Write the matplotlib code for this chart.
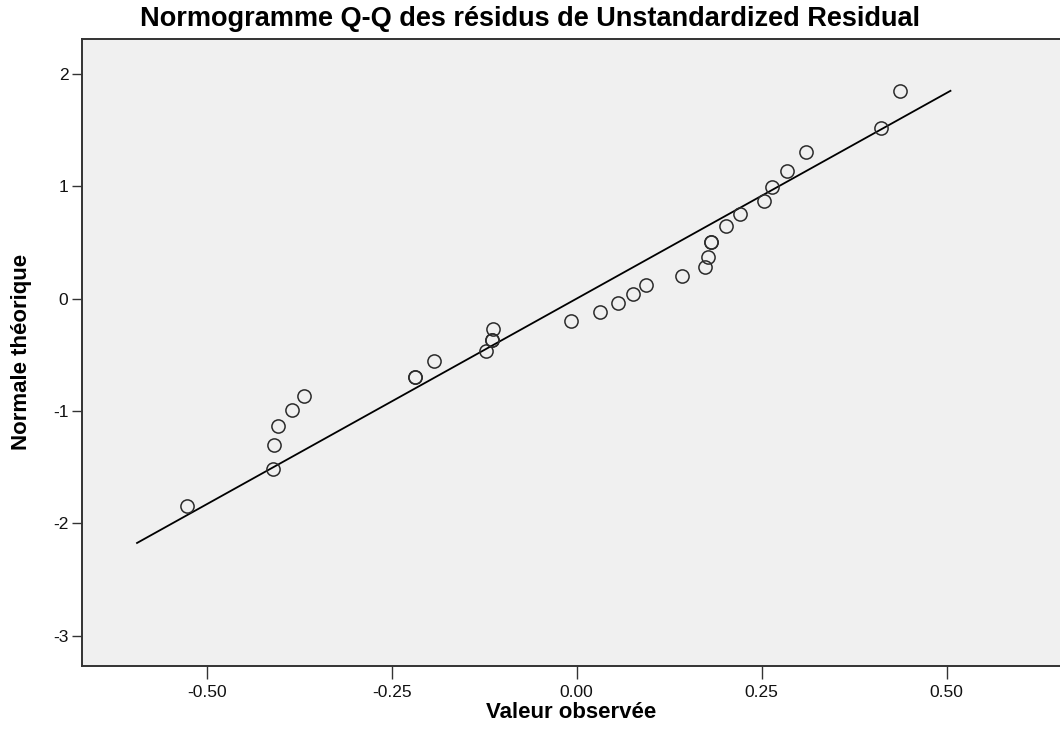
#!/usr/bin/env python3
"""SPSS-style normal Q-Q plot of the unstandardized residuals."""
import matplotlib as mpl
mpl.use("Agg")
import matplotlib.pyplot as plt

# Doubled circles in the picture are two points on top of each other.
OBSERVED = [
    -0.526, -0.410, -0.409, -0.404, -0.385, -0.368, -0.218, -0.218,
    -0.193, -0.123, -0.114, -0.114, -0.1135, -0.008, 0.032, 0.056,
    0.076, 0.093, 0.142, 0.173, 0.178, 0.181, 0.181, 0.202,
    0.221, 0.253, 0.264, 0.284, 0.310, 0.411, 0.437,
]
THEORETICAL = [
    -1.846, -1.515, -1.301, -1.129, -0.990, -0.862, -0.697, -0.697,
    -0.557, -0.466, -0.371, -0.371, -0.273, -0.199, -0.119, -0.036,
    0.044, 0.124, 0.207, 0.287, 0.376, 0.509, 0.509, 0.652,
    0.756, 0.868, 0.992, 1.138, 1.303, 1.520, 1.852,
]
# Reference line endpoints
LINE_X = [-0.594, 0.505]
LINE_Y = [-2.175, 1.852]

X_TICKS = [-0.50, -0.25, 0.00, 0.25, 0.50]
Y_TICKS = [-3, -2, -1, 0, 1, 2]

TITLE = "Normogramme Q-Q des résidus de Unstandardized Residual"
XLABEL = "Valeur observée"
YLABEL = "Normale théorique"

plt.rcParams["font.family"] = ["Liberation Sans", "DejaVu Sans"]

fig = plt.figure(figsize=(10.6, 7.35), dpi=100)
ax = fig.add_axes([0.0776, 0.094, 0.9245, 0.853])
ax.set_facecolor("#f0f0f0")

ax.plot(LINE_X, LINE_Y, color="black", linewidth=1.3, zorder=2)
ax.plot(OBSERVED, THEORETICAL, linestyle="none", marker="o",
        markersize=9.5, markerfacecolor="none", markeredgecolor="#2b2b2b",
        markeredgewidth=1.1, zorder=3)

ax.set_xlim(-0.668, 0.656)
ax.set_ylim(-3.27, 2.314)
ax.set_xticks(X_TICKS)
ax.set_xticklabels([f"{v:.2f}" for v in X_TICKS])
ax.set_yticks(Y_TICKS)
ax.set_yticklabels([str(v) for v in Y_TICKS])
ax.tick_params(axis="x", direction="out", length=9, width=1.0,
               labelsize=12.5, pad=5, color="#333333", labelcolor="#111111")
ax.tick_params(axis="y", direction="out", length=7, width=1.0,
               labelsize=12.5, pad=3, color="#333333", labelcolor="#111111")
for side in ("left", "bottom", "top"):
    ax.spines[side].set_color("#333333")
    ax.spines[side].set_linewidth(1.4)
ax.spines["right"].set_visible(False)

fig.text(0.5, 0.974, TITLE, ha="center", va="center",
         fontsize=19.5, fontweight="bold")
fig.text(0.539, 0.031, XLABEL, ha="center", va="center",
         fontsize=16, fontweight="bold")
fig.text(0.02, 0.521, YLABEL, ha="center", va="center", rotation=90,
         fontsize=16, fontweight="bold")

fig.savefig("out.png", dpi=100)
plt.close(fig)
